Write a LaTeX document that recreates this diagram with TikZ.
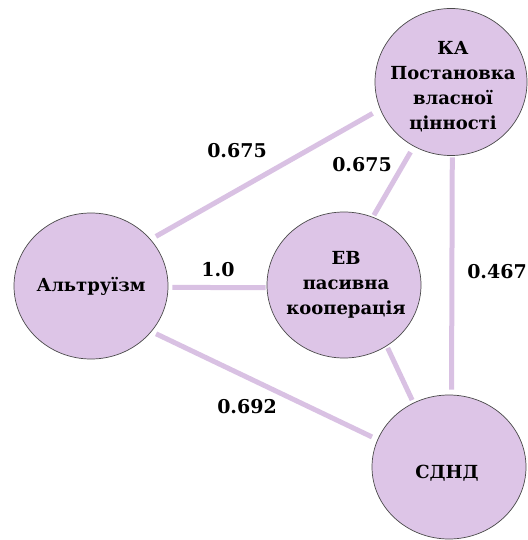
\documentclass[tikz,border=0pt]{standalone}
\usepackage{fontspec}
\setmainfont{DejaVu Serif}
\usetikzlibrary{shapes.geometric,backgrounds}
\definecolor{nodefill}{HTML}{DDC5E7}
\definecolor{linkline}{HTML}{D9C1E3}
\definecolor{rim}{HTML}{4A4A4A}
\begin{document}
\begin{tikzpicture}[x=1pt,y=-1pt,
  concept/.style={ellipse,draw=rim,line width=0.7pt,fill=nodefill,inner sep=0pt,
    minimum width=154pt,minimum height=146pt},
  caption/.style={inner sep=0pt,align=center,
    font=\bfseries\fontsize{18}{25}\selectfont},
  link/.style={draw=linkline,line width=5pt},
  weight/.style={font=\bfseries\fontsize{19}{22}\selectfont,inner sep=0pt}]
\useasboundingbox (0,0) rectangle (527,540);

% factors
\node[concept] (alt)  at (91,286)  {};
\node[concept] (eb)   at (344,285) {};
\node[concept,minimum width=152pt,minimum height=147pt] (ka) at (451,82) {};
\node[concept,minimum height=144pt] (sdnd) at (449,467) {};

\node[caption] (altT)  at (91,286)  {Альтруїзм};
\node[caption] (ebT)   at (346,285) {ЕВ\\пасивна\\кооперація};
\node[caption] (kaT)   at (453,87)  {КА\\Постановка\\власної\\цінності};
\node[caption] (sdndT) at (447,473) {СДНД};

% correlations between factors
\begin{scope}[on background layer]
  \draw[link,shorten <=6pt,shorten >=8.5pt] (alt.38.5) -- (ka.201.7);
  \draw[link,shorten <=4pt,shorten >=1pt]   (alt.-1)   -- (eb.182);
  \draw[link,shorten <=5pt,shorten >=6pt]   (alt.-37.5) -- (sdnd.159);
  \draw[link,shorten <=2pt,shorten >=6.5pt] (eb.67.5)  -- (ka.240);
  \draw[link,shorten <=2pt,shorten >=3pt]   (eb.-55)   -- (sdnd.119);
  \draw[link,shorten <=1.5pt,shorten >=5pt] (ka.-89)   -- (sdnd.88);
\end{scope}

% weights
\node[weight] (w1) at (237,151) {0.675};
\node[weight] (w2) at (362,165) {0.675};
\node[weight] (w3) at (218,270) {1.0};
\node[weight] (w4) at (497,272) {0.467};
\node[weight] (w5) at (247,407) {0.692};
\end{tikzpicture}
\end{document}
